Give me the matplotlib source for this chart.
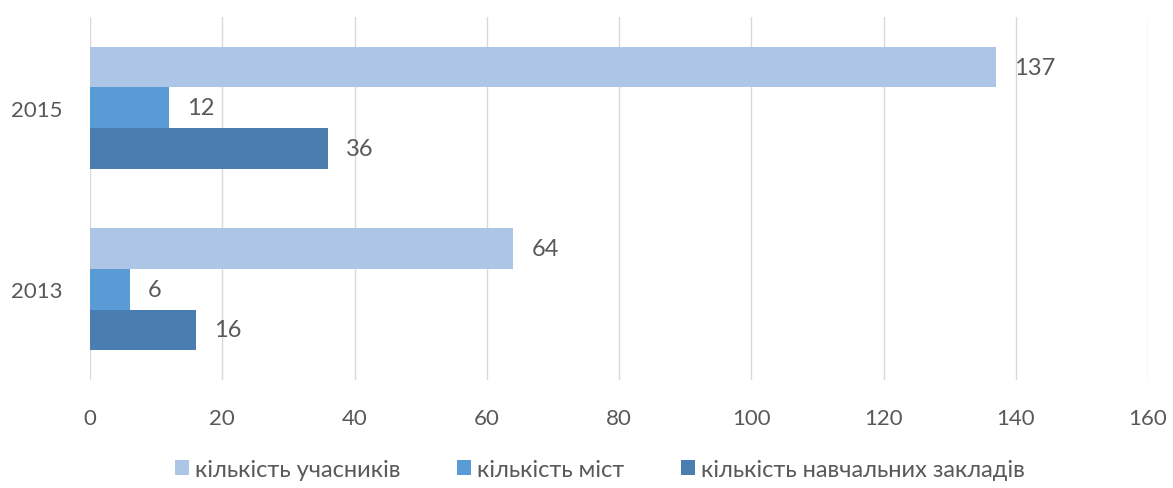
import numpy as np
import matplotlib.pyplot as plt

years = ["2013", "2015"]
participants = [64, 137]
cities = [6, 12]
schools = [16, 36]

series = [
    ("кількість учасників", participants, "#ADC5E6"),
    ("кількість міст", cities, "#5B9BD5"),
    ("кількість навчальних закладів", schools, "#4A7EB0"),
]

plt.rcParams["font.family"] = ["Lato", "DejaVu Sans"]
text_color = "#595959"

fig = plt.figure(figsize=(11.73, 4.89), dpi=100)
ax = fig.add_axes([90 / 1173, (489 - 381) / 489, (1148 - 90) / 1173, 363 / 489])

y = np.arange(len(years))
h = 0.224
offsets = [h, 0, -h]

for (name, vals, color), off in zip(series, offsets):
    bars = ax.barh(y + off, vals, height=h, color=color, label=name, zorder=3)
    for b, v in zip(bars, vals):
        ax.annotate(str(v), (b.get_width(), b.get_y() + b.get_height() / 2),
                    xytext=(13, 0), textcoords="offset points",
                    ha="left", va="center", fontsize=17, color=text_color)

ax.set_xlim(0, 160)
ax.set_ylim(-0.5, 1.5)
ax.set_xticks(np.arange(0, 161, 20))
ax.set_yticks(y)
ax.set_yticklabels(years)
ax.tick_params(axis="both", length=0, labelsize=16, colors=text_color)
ax.tick_params(axis="x", pad=20)
ax.tick_params(axis="y", pad=20)
ax.grid(axis="x", color="#D9D9D9", linewidth=1, zorder=0)
for s in ax.spines.values():
    s.set_visible(False)

ax.legend(loc="upper center", bbox_to_anchor=(0.482, -0.218), ncol=3, frameon=False,
          fontsize=17, handlelength=0.6, handleheight=0.6, handletextpad=0.25,
          columnspacing=2.4, borderaxespad=0, borderpad=0, labelcolor=text_color)

plt.savefig("out.png", dpi=100)
